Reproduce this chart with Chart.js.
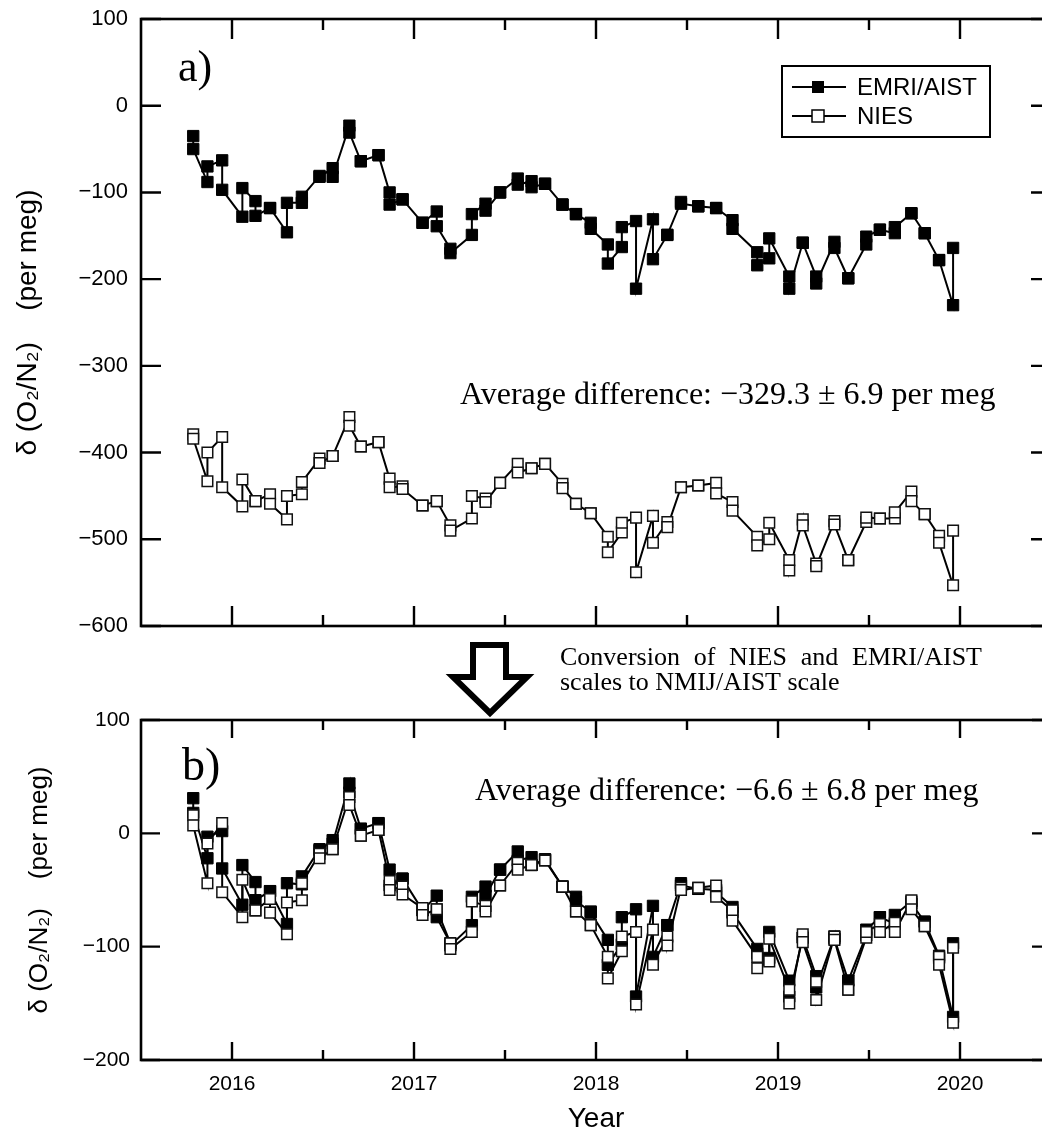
<!DOCTYPE html>
<html><head><meta charset="utf-8">
<script src="https://cdn.jsdelivr.net/npm/chart.js@4.4.1/dist/chart.umd.min.js"></script>
<style>
html,body{margin:0;padding:0;overflow:hidden;background:#fff;width:1042px;height:1132px;}
#wa{position:absolute;left:0;top:0;width:1080px;height:650px;}
#wb{position:absolute;left:0;top:640px;width:1080px;height:510px;}
canvas{display:block;}
</style></head><body>
<div id="wa"><canvas id="ca" width="1080" height="650"></canvas></div>
<div id="wb"><canvas id="cb" width="1080" height="510"></canvas></div>
<script>
// ---- data ----
const dates = [2015.787, 2015.865, 2015.946, 2016.057, 2016.129, 2016.209, 2016.302, 2016.384, 2016.481, 2016.553,
  2016.645, 2016.708, 2016.805, 2016.866, 2016.937, 2017.047, 2017.125, 2017.200, 2017.318, 2017.393,
  2017.473, 2017.570, 2017.646, 2017.720, 2017.816, 2017.890, 2017.971, 2018.065, 2018.142, 2018.220,
  2018.313, 2018.392, 2018.467, 2018.562, 2018.660, 2018.750, 2018.886, 2018.952, 2019.062, 2019.136,
  2019.210, 2019.310, 2019.386, 2019.485, 2019.560, 2019.642, 2019.733, 2019.806, 2019.885, 2019.962];
// two flasks per date, in drawing order
const emriA = [-35,-50, -88,-70, -63,-97, -128,-95, -110,-127, -118,-118, -146,-112, -112,-105, -81,-82, -72,-82,
  -23,-31, -64,-64, -57,-57, -100,-114, -108,-108, -135,-135, -122,-139, -165,-170, -149,-125, -113,-121,
  -100,-100, -84,-91, -87,-94, -90,-90, -114,-114, -125,-125, -135,-142, -160,-182, -163,-140, -133,-211,
  -131,-177, -149,-149, -111,-113, -116,-116, -118,-118, -132,-142, -169,-184, -176,-153, -197,-211, -158,-158,
  -197,-205, -157,-164, -199,-199, -160,-151, -143,-143, -147,-140, -124,-124, -147,-147, -178,-178, -230,-164];
const niesA = [-379,-384, -433,-400, -382,-440, -462,-431, -456,-456, -448,-459, -477,-450, -448,-434, -407,-412, -404,-404,
  -359,-369, -393,-393, -388,-388, -430,-440, -439,-442, -461,-461, -456,-456, -484,-490, -476,-450, -453,-457,
  -435,-435, -413,-423, -418,-418, -413,-413, -436,-441, -459,-459, -470,-470, -497,-515, -492,-481, -475,-538,
  -473,-504, -480,-486, -440,-440, -438,-438, -435,-447, -457,-467, -497,-507, -500,-481, -524,-536, -477,-484,
  -528,-531, -479,-483, -524,-524, -480,-475, -476,-476, -476,-469, -445,-456, -471,-471, -496,-504, -553,-490];
const emriB = [31,18, -22,-3, 2,-31, -63,-28, -43,-59, -51,-51, -80,-44, -45,-38, -14,-15, -6,-9,
  44,36, 4,4, 9,9, -32,-46, -40,-40, -68,-68, -55,-74, -97,-99, -81,-56, -47,-55,
  -32,-32, -16,-24, -21,-28, -23,-23, -47,-47, -56,-60, -69,-70, -94,-116, -98,-74, -67,-144,
  -64,-109, -81,-81, -44,-46, -49,-49, -50,-52, -65,-70, -102,-106, -110,-87, -130,-144, -92,-92,
  -126,-136, -91,-93, -130,-130, -90,-85, -74,-74, -80,-72, -60,-62, -78,-78, -108,-110, -162,-97];
const niesB = [16,7, -44,-9, 9,-52, -74,-41, -68,-68, -58,-70, -89,-61, -59,-44, -18,-22, -14,-14,
  32,25, -2,-2, 3,3, -42,-50, -47,-54, -66,-72, -67,-67, -97,-102, -87,-60, -64,-69,
  -46,-46, -26,-32, -28,-28, -24,-24, -47,-47, -69,-69, -81,-81, -109,-128, -104,-91, -87,-151,
  -85,-116, -91,-99, -48,-50, -48,-48, -46,-56, -68,-77, -109,-119, -113,-93, -138,-150, -89,-96,
  -131,-147, -91,-94, -138,-138, -92,-87, -80,-87, -79,-87, -59,-67, -82,-82, -109,-116, -167,-101];
const yearTicks = [2016, 2017, 2018, 2019, 2020];
const halfYearTicks = [2016.5, 2017.5, 2018.5, 2019.5];
const yTicksA = [-600, -500, -400, -300, -200, -100, 0, 100];
const yTicksB = [-200, -100, 0, 100];
const seriesNames = ['EMRI/AIST', 'NIES'];
const yTitle = 'δ (O₂/N₂)    (per meg)';

// ---- helpers ----
const pts = vals => vals.map((v, j) => ({x: dates[j >> 1], y: v}));
const fmt = v => (v < 0 ? '\u2212' + Math.abs(v) : String(v));
const SANS = 'Liberation Sans, Arial, sans-serif';
const SERIF = 'Liberation Serif, Times New Roman, serif';
const noPad = s => { s.paddingTop = 0; s.paddingBottom = 0; s.paddingLeft = 0; s.paddingRight = 0; };

function filledDs(label, vals) {
  return {label, data: pts(vals), borderColor: '#000', borderWidth: 2, backgroundColor: '#000',
    pointStyle: 'rect', pointRadius: 8, pointBorderWidth: 1, pointBackgroundColor: '#000',
    pointBorderColor: '#000', tension: 0, fill: false};
}
function openDs(label, vals) {
  return {label, data: pts(vals), borderColor: '#000', borderWidth: 2, backgroundColor: '#fff',
    pointStyle: 'rect', pointRadius: 7.5, pointBorderWidth: 1.5, pointBackgroundColor: '#fff',
    pointBorderColor: '#111', tension: 0, fill: false};
}

function frame(chart, yVals, majLen, minLen, yLen) {
  const {ctx, chartArea: {left, right, top, bottom}, scales: {x, y}} = chart;
  ctx.save();
  ctx.strokeStyle = '#000';
  ctx.lineWidth = 2.6;
  ctx.strokeRect(left, top, right - left, bottom - top);
  ctx.lineWidth = 2.4;
  ctx.beginPath();
  yearTicks.forEach(v => { const p = x.getPixelForValue(v);
    ctx.moveTo(p, top); ctx.lineTo(p, top + majLen); ctx.moveTo(p, bottom); ctx.lineTo(p, bottom - majLen); });
  halfYearTicks.forEach(v => { const p = x.getPixelForValue(v);
    ctx.moveTo(p, top); ctx.lineTo(p, top + minLen); ctx.moveTo(p, bottom); ctx.lineTo(p, bottom - minLen); });
  yVals.forEach(v => { const p = y.getPixelForValue(v);
    ctx.moveTo(left, p); ctx.lineTo(left + yLen, p); ctx.moveTo(right, p); ctx.lineTo(right - yLen, p); });
  ctx.stroke();
  ctx.restore();
}

const decoA = {
  id: 'decoA',
  afterDraw(chart) {
    frame(chart, yTicksA, 20, 11, 20);
    const ctx = chart.ctx;
    ctx.save();
    ctx.fillStyle = '#000';
    ctx.textBaseline = 'alphabetic';
    ctx.font = '44px ' + SERIF;
    ctx.fillText('a)', 178, 81);
    ctx.font = '32px ' + SERIF;
    ctx.fillText('Average difference: \u2212329.3 \u00b1 6.9 per meg', 460, 404);
    // legend
    ctx.strokeStyle = '#000';
    ctx.lineWidth = 2;
    ctx.strokeRect(782, 66, 208, 71);
    ctx.beginPath();
    ctx.moveTo(792, 87); ctx.lineTo(846, 87);
    ctx.moveTo(792, 116); ctx.lineTo(846, 116);
    ctx.stroke();
    ctx.fillRect(812, 81, 12, 12);
    ctx.fillStyle = '#fff';
    ctx.fillRect(812, 110, 12, 12);
    ctx.lineWidth = 1.5;
    ctx.strokeRect(812, 110, 12, 12);
    ctx.fillStyle = '#000';
    ctx.font = '24px ' + SANS;
    ctx.textBaseline = 'middle';
    ctx.fillText(seriesNames[0], 857, 88);
    ctx.fillText(seriesNames[1], 857, 117);
    ctx.restore();
  }
};

const decoB = {
  id: 'decoB',
  afterDraw(chart) {
    frame(chart, yTicksB, 18, 10, 19);
    const ctx = chart.ctx;
    ctx.save();
    ctx.fillStyle = '#000';
    ctx.textBaseline = 'alphabetic';
    ctx.font = '46px ' + SERIF;
    ctx.fillText('b)', 182, 140);
    ctx.font = '32px ' + SERIF;
    ctx.fillText('Average difference: \u22126.6 \u00b1 6.8 per meg', 475, 160);
    // conversion note
    ctx.font = '26px ' + SERIF;
    const l1 = 'Conversion of NIES and EMRI/AIST';
    const w1 = ctx.measureText(l1).width;
    ctx.wordSpacing = Math.max(0, (422 - w1) / 4) + 'px';
    ctx.fillText(l1, 560, 25);
    ctx.wordSpacing = '0px';
    ctx.fillText('scales to NMIJ/AIST scale', 560, 50);
    // arrow
    ctx.strokeStyle = '#000';
    ctx.lineWidth = 6;
    ctx.lineJoin = 'miter';
    ctx.beginPath();
    ctx.moveTo(473, 5); ctx.lineTo(506, 5); ctx.lineTo(506, 37); ctx.lineTo(527, 37);
    ctx.lineTo(490, 73); ctx.lineTo(453, 37); ctx.lineTo(473, 37); ctx.closePath();
    ctx.stroke();
    ctx.restore();
  }
};

function yScale(min, max, ticks, size, pad, titleSize, titlePad) {
  return {
    type: 'linear', min, max,
    afterBuildTicks: s => { s.ticks = ticks.map(v => ({value: v})); },
    afterFit: s => { s.width = 141; noPad(s); },
    ticks: {font: {family: SANS, size}, color: '#000', padding: pad, callback: fmt},
    grid: {display: false, drawTicks: false},
    border: {display: false},
    title: {display: true, text: yTitle, color: '#000', font: {family: SANS, size: titleSize},
      padding: {top: titlePad, bottom: 0}}
  };
}

const common = {
  responsive: false, animation: false, devicePixelRatio: 1,
  plugins: {legend: {display: false}, tooltip: {enabled: false}},
  events: []
};

new Chart(document.getElementById('ca'), {
  type: 'line',
  data: {datasets: [filledDs(seriesNames[0], emriA), openDs(seriesNames[1], niesA)]},
  options: Object.assign({}, common, {
    layout: {padding: {left: 0, top: 19, right: 29, bottom: 24}},
    scales: {
      x: {type: 'linear', min: 2015.5, max: 2020.5, display: false, afterFit: noPad},
      y: yScale(-600, 100, yTicksA, 22, 13, 28, 11)
    }
  }),
  plugins: [decoA]
});

new Chart(document.getElementById('cb'), {
  type: 'line',
  data: {datasets: [openDs(seriesNames[1], niesB), filledDs(seriesNames[0], emriB)]},
  options: Object.assign({}, common, {
    layout: {padding: {left: 0, top: 80, right: 29, bottom: 0}},
    scales: {
      x: {
        type: 'linear', min: 2015.5, max: 2020.5,
        afterBuildTicks: s => { s.ticks = yearTicks.map(v => ({value: v})); },
        afterFit: s => { s.height = 90; noPad(s); },
        ticks: {font: {family: SANS, size: 21}, color: '#000', padding: 12, autoSkip: false, maxRotation: 0,
          callback: v => String(v)},
        grid: {display: false, drawTicks: false},
        border: {display: false},
        title: {display: true, text: 'Year', color: '#000', font: {family: SANS, size: 28},
          padding: {top: 0, bottom: 14}}
      },
      y: yScale(-200, 100, yTicksB, 21, 11, 26, 24)
    }
  }),
  plugins: [decoB]
});
</script>
</body></html>
